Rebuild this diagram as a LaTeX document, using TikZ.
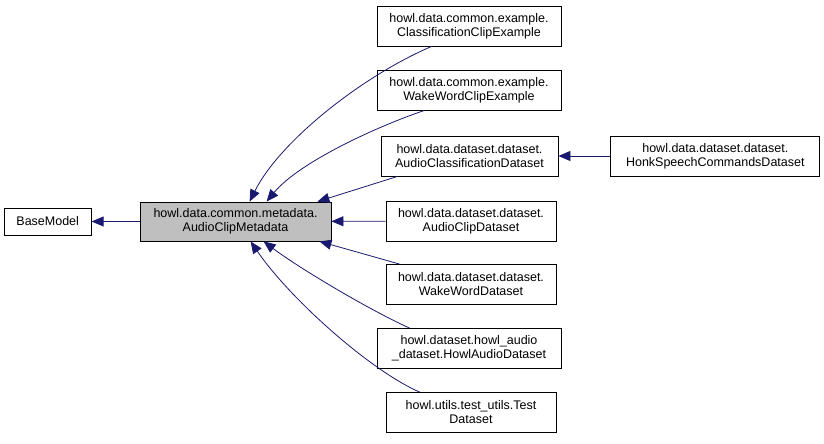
\documentclass[tikz,border=0pt]{standalone}
\usepackage{fontspec}
\setmainfont{Liberation Sans}
\usetikzlibrary{arrows.meta,positioning}
\definecolor{edgeblue}{HTML}{191970}
\definecolor{basegray}{HTML}{BFBFBF}
\tikzset{
  classbox/.style={draw=black, line width=0.8pt, fill=white, align=center, inner sep=2pt, font=\fontsize{12.5}{14}\selectfont, minimum height=40pt},
  basebox/.style={classbox, fill=basegray},
  inherit/.style={edgeblue, line width=0.8pt, -{Triangle[length=12pt,width=10pt]}}
}
\begin{document}
\begin{tikzpicture}[x=1pt, y=-1pt]
  \useasboundingbox (0,0) rectangle (824,444);
  \node[basebox, minimum width=191pt, minimum height=39pt] (meta) at (235.5,221.5) {howl.data.common.metadata.\\AudioClipMetadata};
  \node[classbox, minimum width=87pt, minimum height=27pt, left=48pt of meta] (base) {BaseModel};
  \node[classbox, minimum width=184pt] (clsclip) at (469,26) {howl.data.common.example.\\ClassificationClipExample};
  \node[classbox, minimum width=184pt] (wwclip) at (469,90) {howl.data.common.example.\\WakeWordClipExample};
  \node[classbox, minimum width=177pt] (aclass) at (469.5,156) {howl.data.dataset.dataset.\\AudioClassificationDataset};
  \node[classbox, minimum width=209pt, right=52pt of aclass] (honk) {howl.data.dataset.dataset.\\HonkSpeechCommandsDataset};
  \node[classbox, minimum width=170pt] (aclip) at (471,221) {howl.data.dataset.dataset.\\AudioClipDataset};
  \node[classbox, minimum width=170pt] (wwdata) at (471,284.5) {howl.data.dataset.dataset.\\WakeWordDataset};
  \node[classbox, minimum width=184pt] (howlds) at (469,348.5) {howl.dataset.howl\_audio\\\_dataset.HowlAudioDataset};
  \node[classbox, minimum width=170pt] (testds) at (471,412.5) {howl.utils.test\_utils.Test\\Dataset};
  \draw[inherit] (meta) -- (base);
  \draw[inherit] (honk) -- (aclass);
  \draw[inherit] ([xshift=55pt]clsclip.south west) .. controls +(-70,30) and +(30,-60) .. ([xshift=110pt]meta.north west);
  \draw[inherit] ([xshift=48pt]wwclip.south west) .. controls +(-45,15) and +(33,-40) .. ([xshift=127pt]meta.north west);
  \draw[inherit] ([xshift=17pt]aclass.south west) -- ([xshift=-14pt]meta.north east);
  \draw[inherit] (aclip) -- (meta);
  \draw[inherit] ([xshift=14pt]wwdata.north west) -- ([xshift=-12pt]meta.south east);
  \draw[inherit] ([xshift=33pt]howlds.north west) .. controls +(-40,-18) and +(36,27) .. ([xshift=124pt]meta.south west);
  \draw[inherit] ([xshift=34pt]testds.north west) .. controls +(-50,-22) and +(39,57) .. ([xshift=111pt]meta.south west);
\end{tikzpicture}
\end{document}
